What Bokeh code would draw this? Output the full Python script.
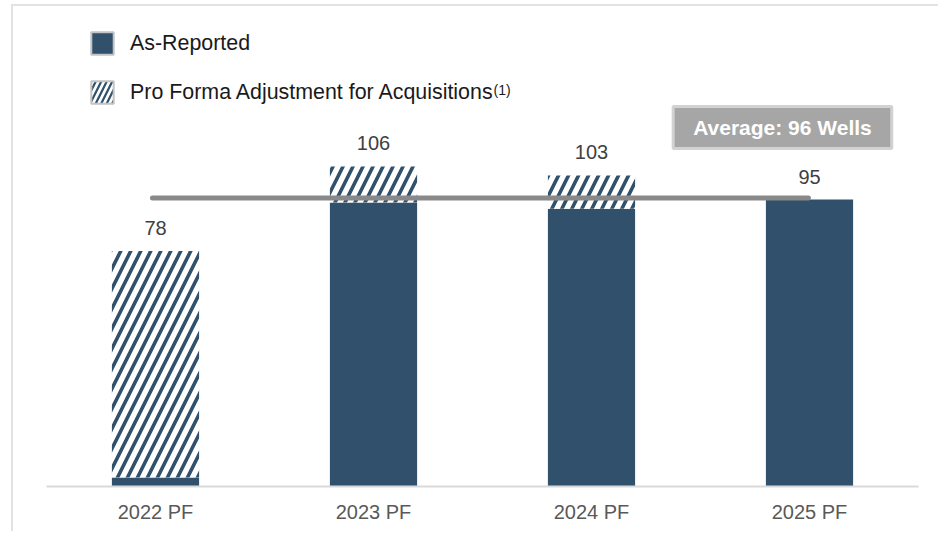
from bokeh.plotting import figure
from bokeh.models import (ColumnDataSource, FactorRange, Legend, LegendItem, Label, Range1d)
from bokeh.core.properties import value
from bokeh.embed import file_html
from bokeh.resources import INLINE

# ---- data ----
categories = ["2022 PF", "2023 PF", "2024 PF", "2025 PF"]
as_reported = [3, 94, 92, 95]
pro_forma_adj = [75, 12, 11, 0]
totals = [a + b for a, b in zip(as_reported, pro_forma_adj)]
total_labels = [str(t) for t in totals]
average_value = sum(totals) / len(totals)
average_text = "Average: %d Wells" % round(average_value)

BAR = "#31506B"
FONT = "Liberation Sans"

src = ColumnDataSource(dict(x=categories, rep=as_reported, adj=pro_forma_adj,
                            total=totals, label=total_labels))

p = figure(x_range=FactorRange(*categories, range_padding=0),
           y_range=Range1d(0, 478 / 3.02),
           width=938, height=531, output_backend="svg", toolbar_location=None,
           min_border_left=46, min_border_right=20, min_border_top=8, min_border_bottom=45)
p.outline_line_color = None
p.xgrid.visible = False
p.ygrid.visible = False
p.yaxis.visible = False
p.background_fill_color = "white"
p.border_fill_color = None
p.styles = {
    "background": "linear-gradient(#e2e2e2,#e2e2e2) 11px 4px / 2px 100% no-repeat, "
                  "linear-gradient(#e2e2e2,#e2e2e2) 11px 4px / 100% 2px no-repeat, white"
}

# bars
p.vbar(x="x", bottom=0, top="rep", width=0.4, source=src,
       fill_color=BAR, line_color=None)
p.vbar(x="x", bottom="rep", top="total", width=0.4, source=src,
       fill_color="white", line_color=None,
       hatch_pattern="/", hatch_color=BAR, hatch_scale=20, hatch_weight=3.6)

# value labels
p.text(x="x", y="total", text="label", source=src, y_offset=-23,
       text_align="center", text_baseline="middle",
       text_font=value(FONT), text_font_size="20px", text_color="#404040")

# average line
p.segment(x0=[0.486], x1=[3.495], y0=[average_value], y1=[average_value],
          line_color="#898989", line_width=5, line_cap="round")

p.add_layout(Label(x=3.376, y=118.9, text=average_text, text_align="center",
                   text_baseline="middle", text_color="white", text_font_style="bold",
                   text_font_size="21px", text_font=FONT,
                   background_fill_color="#a6a6a6", border_line_color="#d2d2d2",
                   border_line_width=3, padding=dict(left=20, right=20, top=10, bottom=9)))

# legend swatch renderers (no drawable coordinates, only their styles)
nan = float("nan")
swatch = ColumnDataSource(dict(x=[categories[0]], top=[nan], bottom=[nan]))
r1 = p.vbar(x="x", top="top", bottom="bottom", width=0.4, source=swatch, fill_color=BAR,
            line_color="#c3c3c3", line_width=2)
r2 = p.vbar(x="x", top="top", bottom="bottom", width=0.4, source=swatch, fill_color="white",
            hatch_pattern="/", hatch_color=BAR, hatch_scale=11, hatch_weight=2.2,
            line_color="#c3c3c3", line_width=2)
legend = Legend(items=[LegendItem(label="As-Reported", renderers=[r1]),
                       LegendItem(label="Pro Forma Adjustment for Acquisitions", renderers=[r2])],
                location=(42, 380), orientation="vertical", padding=0, margin=0,
                spacing=21, glyph_width=28, glyph_height=28, label_standoff=14,
                label_text_font=FONT, label_text_font_size="21.4px", label_text_color="#1a1a1a",
                background_fill_alpha=0, border_line_color=None)
p.add_layout(legend)

p.add_layout(Label(x=447 / 218, y=(486 - 89) / 3.02, text="(1)", text_align="left",
                   text_baseline="alphabetic", text_font=FONT, text_font_size="14px",
                   text_color="#1a1a1a"))

# axis
ax = p.xaxis[0]
ax.axis_line_color = "#d9d9d9"
ax.axis_line_width = 2
ax.major_tick_line_color = None
ax.minor_tick_line_color = None
ax.major_tick_out = 0
ax.major_label_standoff = 14
ax.major_label_text_font = FONT
ax.major_label_text_font_size = "20px"
ax.major_label_text_color = "#595959"

open("out.html", "w").write(file_html(p, INLINE))
